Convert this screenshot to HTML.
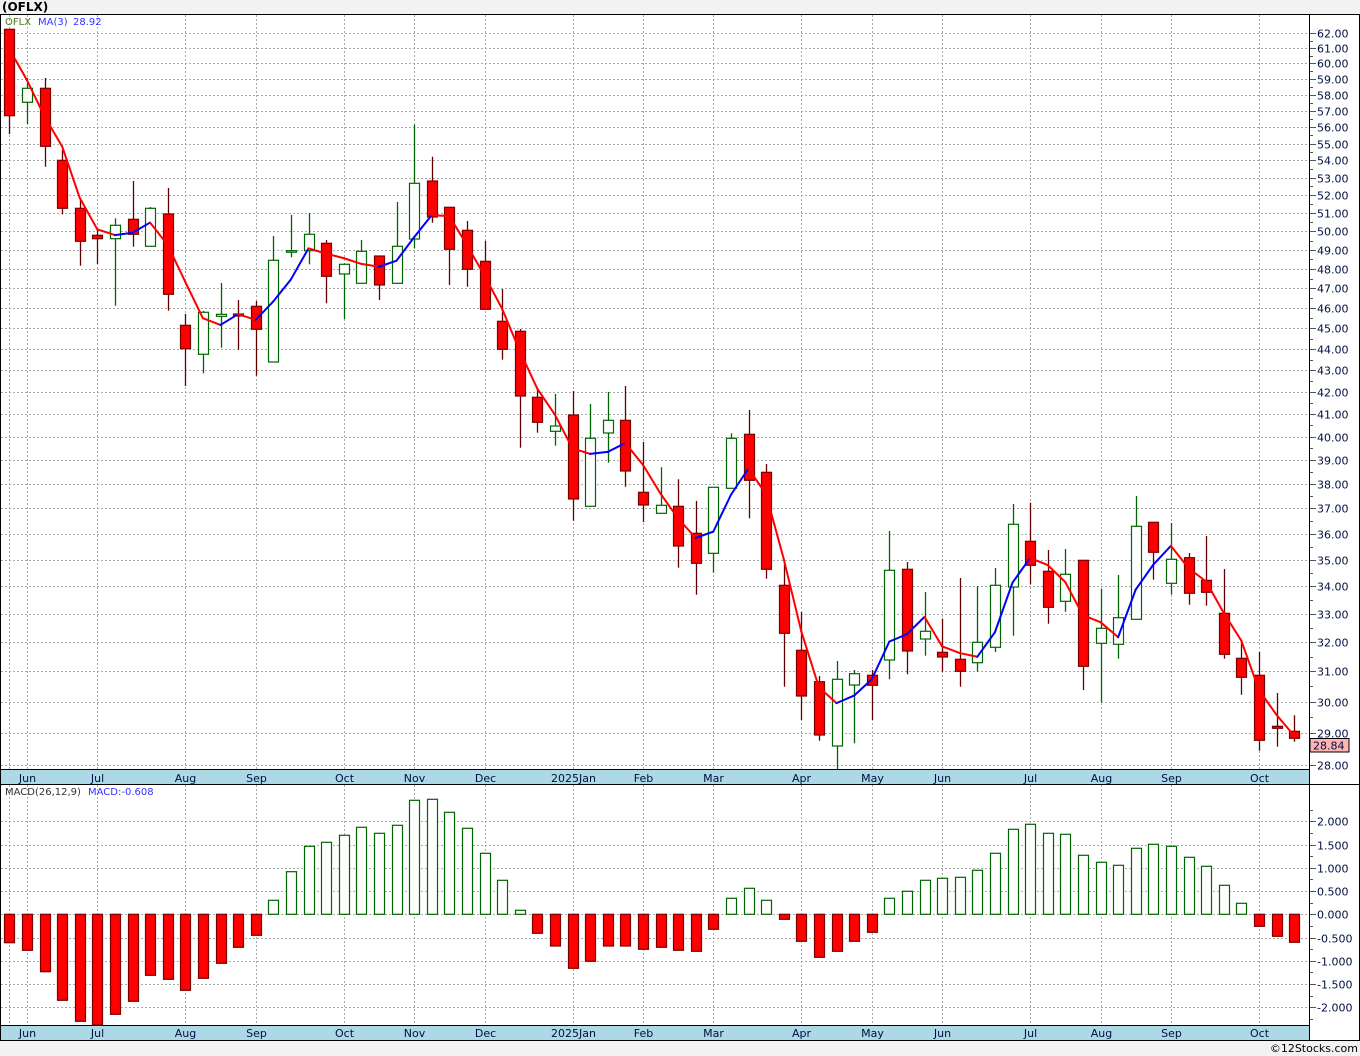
<!DOCTYPE html>
<html><head><meta charset="utf-8"><style>
html,body{margin:0;padding:0;background:#f2f2f2;}
svg{display:block;font-family:"DejaVu Sans","Liberation Sans",sans-serif;}
</style></head><body>
<svg id="s" width="1360" height="1056" xmlns="http://www.w3.org/2000/svg">
<rect x="0" y="0" width="1360" height="1056" fill="#f2f2f2"/>
<rect x="0.5" y="14.5" width="1359" height="1026" fill="#fff" stroke="#000"/>
<text x="2" y="11" font-size="12" font-weight="bold" fill="#000">(OFLX)</text>
<g id="g"></g>
<text x="5" y="25" font-size="10" fill="#4d7a1a">OFLX</text>
<text x="38" y="25" font-size="10" fill="#3333ff">MA(3)</text>
<text x="73" y="25" font-size="10" fill="#3333ff">28.92</text>
<text x="5" y="795" font-size="10" fill="#333">MACD(26,12,9)</text>
<text x="88" y="795" font-size="10" fill="#3333ff">MACD:-0.608</text>
<text x="1358" y="1052" font-size="11" fill="#000" text-anchor="end">©12Stocks.com</text>
</svg>
<script>
var NS="http://www.w3.org/2000/svg",G=document.getElementById('g');
function el(t,a,txt){var e=document.createElementNS(NS,t);for(var k in a)e.setAttribute(k,a[k]);if(txt!=null)e.textContent=txt;G.appendChild(e);return e;}
var K=920.5,Y0=33.3;
function py(p){return Y0+K*Math.log(62/p);}
function yp(y){return 62*Math.exp(-(y-Y0)/K);}
function cx(i){return 9.3+17.6*i;}
// panels backgrounds
el('rect',{x:1,y:770,width:1308,height:14,fill:'#add8e6'});
el('rect',{x:1,y:1026,width:1308,height:14,fill:'#add8e6'});
// grid price
for(var p=28;p<=62;p++){var y=Math.round(py(p))+0.5;
 el('line',{x1:1,x2:1309,y1:y,y2:y,stroke:'#aaa','stroke-dasharray':'2,2'});
 el('line',{x1:1309,x2:1316,y1:y,y2:y,stroke:'#555'});
 el('text',{x:1317,y:y+4,'font-size':11,fill:'#001040'},p.toFixed(2));
 if(p<62){var yh=Math.round(py(p+0.5))+0.5;el('line',{x1:1309,x2:1313,y1:yh,y2:yh,stroke:'#555'});}
}
// grid macd
for(var v=-2;v<=2.001;v+=0.5){var y=Math.round(914.3-v*46.5)+0.5;
 el('line',{x1:1,x2:1309,y1:y,y2:y,stroke:'#aaa','stroke-dasharray':'2,2'});
 el('line',{x1:1309,x2:1316,y1:y,y2:y,stroke:'#555'});
 var s=v.toFixed(3); if(Math.abs(v)<1e-9)s='0.000';
 el('text',{x:1317,y:y+4,'font-size':11,fill:'#001040'},s);
}
for(var v=-2.25;v<=2.3;v+=0.5){var y=Math.round(914.3-v*46.5)+0.5;el('line',{x1:1309,x2:1313,y1:y,y2:y,stroke:'#555'});}
// months
var M=[[0,''],[1,'Jun'],[5,'Jul'],[10,'Aug'],[14,'Sep'],[19,'Oct'],[23,'Nov'],[27,'Dec'],[32,'2025Jan'],[36,'Feb'],[40,'Mar'],[45,'Apr'],[49,'May'],[53,'Jun'],[58,'Jul'],[62,'Aug'],[66,'Sep'],[71,'Oct']];
M.forEach(function(m){var x=Math.round(cx(m[0]))+0.5;
 el('line',{x1:x,x2:x,y1:15,y2:770,stroke:'#aaa','stroke-dasharray':'2,2'});
 el('line',{x1:x,x2:x,y1:785,y2:1026,stroke:'#aaa','stroke-dasharray':'2,2'});
 if(m[1]){el('text',{x:x,y:782,'font-size':11,fill:'#001040','text-anchor':'middle'},m[1]);
 el('text',{x:x,y:1037,'font-size':11,fill:'#001040','text-anchor':'middle'},m[1]);}
});
// frame lines
[[1,769.5,1309,769.5],[1,784.5,1360,784.5],[1,1025.5,1309,1025.5],[1,1040.5,1360,1040.5],[1309.5,14,1309.5,1040]].forEach(function(l){el('line',{x1:l[0],y1:l[1],x2:l[2],y2:l[3],stroke:'#000'});});
var C=[
['r',29,29.3,115.7,134],['g',78,88.3,102.3,124],['r',78,88.3,146.3,166.7],['r',150,160.3,208.3,214.3],['r',198,208.3,241.3,265.7],
['r',230,235.3,238.7,264],['g',218.3,225.3,238.7,305.7],['r',181,219.3,234.3,246.7],['g',207,208.3,246.3,246.3],['r',188,214,294.3,310.7],
['r',314,325.3,348.7,386],['g',311,312.3,354.3,373.3],['g',283,314.3,316.3,347.7],['r',300,314,316,349.7],['r',301,306.3,329.3,375.7],
['g',236,260.3,362,362],['g',215,250.7,251.5,257.3],['g',213,234.3,250.7,264.3],['r',240,243.3,276.3,303.3],['g',263.3,264.3,274,319],
['g',240,251.3,283.3,283.3],['r',256,256,285,300],['g',202,246.3,283.3,283.3],['g',124.7,183.3,239,248],['r',156.7,181,217,222.7],
['r',207.3,207.3,249.3,285],['r',221,230.3,269.3,286.7],['r',241,261.3,309.3,309.3],['r',289,321.3,349.3,359.7],['r',329,331.3,396,447.7],
['r',390,397.3,422.3,432.7],['g',394,426,431.3,445.7],['r',391,415,499,520.7],['g',404,438.3,506.3,506.3],['g',392,420.3,433,462.7],
['r',386,420.3,471,486.7],['r',442,492.3,505,522],['g',467.3,505.3,513.3,513.3],['r',479.3,506.3,546,567.7],['r',501,533.3,563.3,594.7],
['g',487.3,487.3,553.3,572.7],['g',433.3,438.3,488.3,488.3],['r',410,434.3,480.3,518.3],['r',464,472.3,569.3,578.7],['r',563.3,585.3,633.3,686.7],
['r',612,650.3,696,720],['r',676,681.7,735,740.7],['g',661,679.3,746,770],['g',670,673.7,685,743.3],['r',670,675.3,685.3,720],
['g',531,570.3,660,679.3],['r',562,569.3,651,674.3],['g',592,631.3,639,655.7],['r',618.7,652.3,657,671.7],['r',578,659.3,671.3,686.7],
['g',586,642.3,662.7,671.7],['g',568,585.3,647.3,652],['g',504,524.3,587,635.7],['r',502.7,541.3,565.3,584.3],['r',550,571.3,607.3,623.7],
['g',549,574.3,601.3,611.7],['r',560.3,560.3,666.3,690],['g',589,628.3,643.3,702.3],['g',575,617.7,644.3,658.7],['g',496,526.3,619.3,619.3],
['r',522.3,522.3,552.3,579.7],['g',523,559.3,583.3,594.7],['r',553,557.7,593.3,604.7],['r',536,580.3,592.3,605.7],['r',569,613.3,654.3,658.7],
['r',641.7,658.3,677.3,694.7],['r',652,675.3,740.3,750.7],['r',693,726.3,728.3,746.7],['r',715.3,731.3,738.3,741.7]];
C.forEach(function(c,i){var x=Math.round(cx(i))+0.5;var red=c[0]=='r';
 el('line',{x1:x,x2:x,y1:c[1],y2:Math.min(c[4],769),stroke:red?'#660000':'#006400','stroke-width':1.3});
 var h=Math.max(c[3]-c[2],1.5);
 el('rect',{x:x-5,y:c[2],width:10,height:h,fill:red?'#ff0000':'#fff',stroke:red?'#7a0000':'#006400','stroke-width':1.2});
});
// MA
var cl=C.map(function(c){return yp(c[0]=='r'?c[3]:c[2]);});
var pts=[[15,59],[cx(1),80]];
for(var i=2;i<C.length;i++){pts.push([cx(i),py((cl[i]+cl[i-1]+cl[i-2])/3)]);}
for(var i=1;i<pts.length;i++){
 el('line',{x1:pts[i-1][0],y1:pts[i-1][1],x2:pts[i][0],y2:pts[i][1],stroke:pts[i][1]<pts[i-1][1]?'#0000ff':'#ff0000','stroke-width':2,'stroke-linecap':'round'});
}
// last price box
el('rect',{x:1310,y:738.5,width:39,height:13.5,fill:'#ffb3b3',stroke:'#000'});
el('text',{x:1313,y:749.5,'font-size':11,fill:'#001040'},'28.84');
// MACD
var D=[942.7,950.3,971.7,1000.3,1021.3,1025,1014.3,1001.3,975.3,979.3,990.3,978.3,963.3,947.3,935.3,900.3,871.7,846.3,842.3,835.3,827.3,833.3,825.3,800.3,799.3,812.3,828.3,853.3,880.3,910.3,933.3,946,968.3,961.3,946,946,949.3,947.3,950.3,951.3,929.3,898.3,888.3,900.3,919.3,941.3,957.3,951.3,941.3,932.3,898.3,891.3,880.3,878.3,877.3,870.3,853.3,829.3,824.3,833.3,834.3,855.3,862.3,865.3,848.3,844.3,846.3,857.3,866.3,885.3,903.3,926.3,936.3,942.3];
var Z=914.3;
D.forEach(function(y,i){var x=Math.round(cx(i))+0.5;var red=y>Z;
 var t=Math.min(y,Z),h=Math.abs(y-Z);
 el('rect',{x:x-5,y:t,width:10,height:h,fill:red?'#ff0000':'#fff',stroke:red?'#7a0000':'#006400','stroke-width':1.2});
});
</script>
</body></html>
